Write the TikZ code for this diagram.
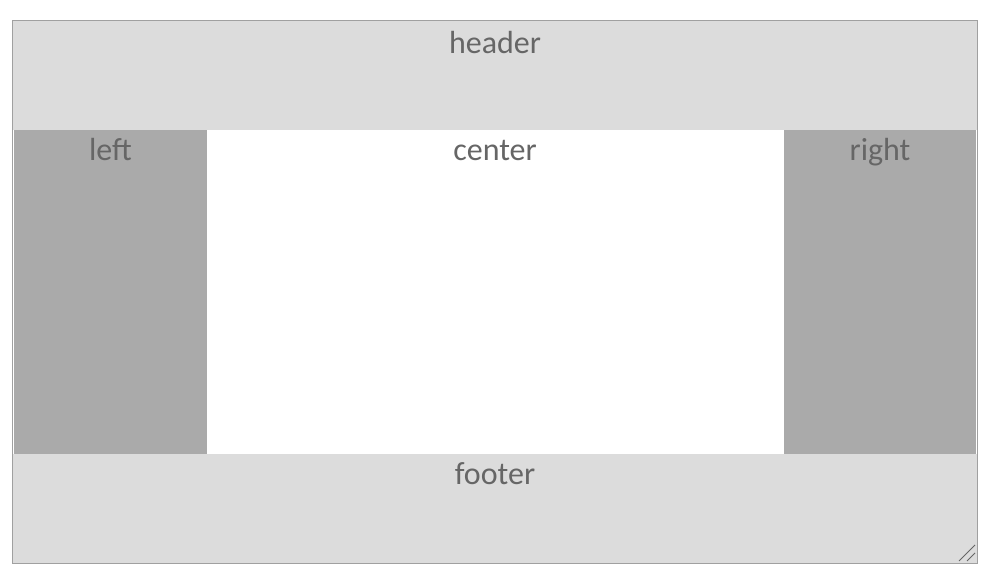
\documentclass[tikz,border=0pt]{standalone}
\usepackage{fontspec}
\setmainfont{Carlito}
\definecolor{bandgray}{HTML}{DCDCDC}
\definecolor{sidegray}{HTML}{AAAAAA}
\definecolor{txtgray}{HTML}{666666}
\definecolor{framegray}{HTML}{A0A0A0}
\begin{document}
\begin{tikzpicture}[x=1pt,y=-1pt,
  lbl/.style={text=txtgray,font=\fontsize{32}{32}\selectfont,anchor=base,inner sep=0pt}]
\useasboundingbox[fill=white] (0,0) rectangle (992,576);
\fill[color=bandgray] (13,21) rectangle (977,130);
\fill[color=sidegray] (14,130) rectangle (207,454);
\fill[color=white] (207,130) rectangle (784,454);
\fill[color=sidegray] (784,130) rectangle (976,454);
\fill[color=bandgray] (13,454) rectangle (977,563);
\draw[color=framegray,line width=1pt] (12.5,20.5) rectangle (977.5,563.5);

\node[lbl] (header) at (495,53) {header};
\node[lbl] (left) at (110.5,160) {left};
\node[lbl] (center) at (495,160) {center};
\node[lbl] (right) at (880,160) {right};
\node[lbl] (footer) at (495,484) {footer};

% resize grip
\coordinate (gripA) at (959,561);
\coordinate (gripB) at (975,545);
\coordinate (gripC) at (967,561);
\coordinate (gripD) at (975,553);
\draw[color=gray!80!black,line width=0.8pt] (gripA) -- (gripB);
\draw[color=gray!80!black,line width=0.8pt] (gripC) -- (gripD);
\end{tikzpicture}
\end{document}
